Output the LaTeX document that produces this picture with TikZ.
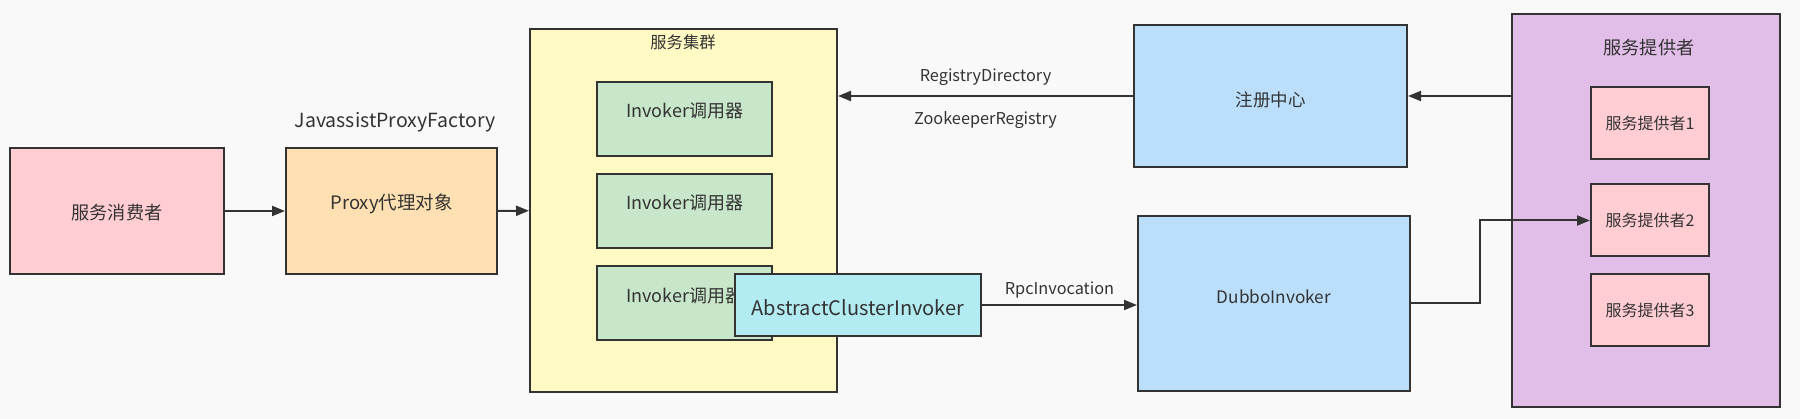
\documentclass[tikz,border=0pt]{standalone}
\usepackage{fontspec}
\setmainfont{Noto Sans CJK SC}
\usetikzlibrary{arrows.meta,positioning}

\definecolor{pagebg}{RGB}{249,249,249}
\definecolor{edgegray}{RGB}{51,51,51}
\definecolor{consumerpink}{RGB}{255,205,210}
\definecolor{proxyorange}{RGB}{255,224,178}
\definecolor{clusteryellow}{RGB}{255,249,196}
\definecolor{invokergreen}{RGB}{200,230,201}
\definecolor{abscyan}{RGB}{178,235,242}
\definecolor{regblue}{RGB}{187,222,251}
\definecolor{providerpurple}{RGB}{225,190,231}

\newcommand{\fsz}[1]{\fontsize{#1}{#1}\selectfont}

\begin{document}
\begin{tikzpicture}[x=1pt, y=-1pt,
  box/.style={draw=edgegray, line width=2pt, align=center, inner sep=0pt, text=edgegray, font=\fsz{18}},
  lift/.style={text height=16pt, text depth=#1},
  drop/.style={text height=#1, text depth=2pt},
  lbl/.style={text=edgegray, inner sep=0pt, font=\fsz{16.3}},
  arr/.style={-{Triangle[length=13pt,width=10pt]}, line width=2pt, draw=edgegray}
]
\fill[pagebg] (0,0) rectangle (1800,419);
\useasboundingbox (0,0) rectangle (1800,419);

% consumer side
\node[box, drop=20pt, font=\fsz{18.2}, fill=consumerpink, minimum width=214pt, minimum height=126pt] (consumer) at (117,211) {服务消费者};
\node[box, lift=18pt, font=\fsz{18.5}, fill=proxyorange, minimum width=211pt, minimum height=126pt] (proxy) at (391.5,211) {Proxy代理对象};
\node[lbl, font=\fsz{19.5}] (factory) at (395,122) {JavassistProxyFactory};

% cluster
\node[box, fill=clusteryellow, minimum width=307pt, minimum height=363pt] (cluster) at (683.5,210.5) {};
\node[lbl] (clustertitle) at (683,42) {服务集群};
\node[box, lift=18pt, fill=invokergreen, minimum width=175pt, minimum height=74pt] (inv1) at (684.5,119) {Invoker调用器};
\node[box, lift=18pt, fill=invokergreen, minimum width=175pt, minimum height=74pt] (inv2) at (684.5,211) {Invoker调用器};
\node[box, lift=18pt, fill=invokergreen, minimum width=175pt, minimum height=74pt] (inv3) at (684.5,303.5) {Invoker调用器};
\node[box, drop=24pt, font=\fsz{20}, fill=abscyan, minimum width=246pt, minimum height=62pt] (abstract) at (858,305) {AbstractClusterInvoker};

% registry and invoker
\node[box, drop=24pt, font=\fsz{17.5}, fill=regblue, minimum width=273pt, minimum height=142pt] (registry) at (1270.5,96) {注册中心};
\node[box, lift=15pt, font=\fsz{17.2}, fill=regblue, minimum width=272pt, minimum height=175pt] (dubbo) at (1274,303.5) {DubboInvoker};

% providers
\node[box, fill=providerpurple, minimum width=268pt, minimum height=393pt] (providers) at (1646,210.5) {};
\node[lbl, font=\fsz{18.2}] (providertitle) at (1649,48) {服务提供者};
\node[box, font=\fsz{16}, fill=consumerpink, minimum width=118pt, minimum height=72pt] (p1) at (1650,123) {服务提供者1};
\node[box, font=\fsz{16}, fill=consumerpink, minimum width=118pt, minimum height=72pt] (p2) at (1650,220.5) {服务提供者2};
\node[box, font=\fsz{16}, fill=consumerpink, minimum width=118pt, minimum height=72pt] (p3) at (1650,310) {服务提供者3};

% connectors
\draw[arr] (consumer) -- (proxy);
\draw[arr] (proxy) -- (cluster);
\draw[arr] (registry.west) -- (registry.west -| cluster.east)
  node[lbl, midway, yshift=19pt] (regdir) {RegistryDirectory}
  node[lbl, midway, yshift=-24pt] (zkreg) {ZookeeperRegistry};
\draw[arr] (providers.west |- registry.east) -- (registry.east);
\draw[arr] (abstract.east) -- (abstract.east -| dubbo.west)
  node[lbl, midway, yshift=15pt] (rpcinv) {RpcInvocation};
\draw[arr] (dubbo.east) -- ++(69,0) |- (p2.west);
\end{tikzpicture}
\end{document}
